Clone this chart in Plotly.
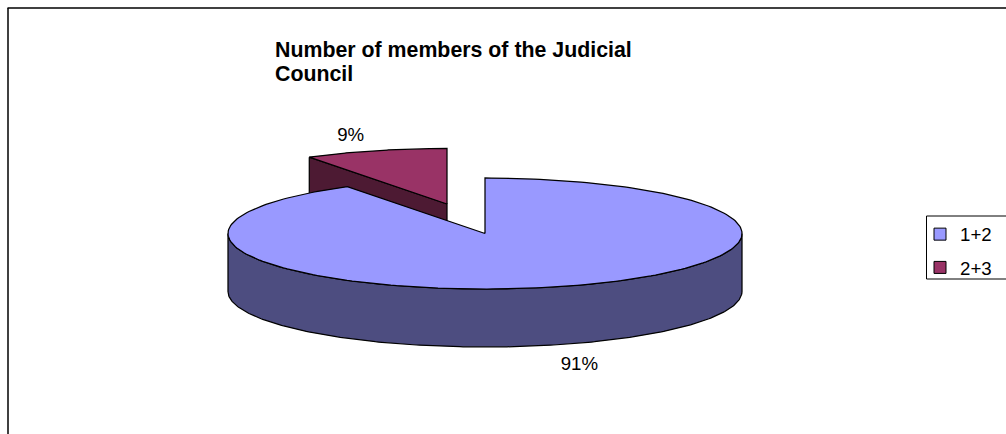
import numpy as np
import plotly.graph_objects as go

# Chart data
categories = ["1+2", "2+3"]
shares = [91, 9]
top_colors = ["#9999FF", "#993366"]
wall_colors = ["#4D4D80", "#4D1A33"]
title_lines = ["Number of members of the Judicial", "Council"]

# Projected pie geometry in pixels (the axes below map 1:1 onto the page)
W, H = 1006, 434
RX, RY, DEPTH = 257, 55.5, 58
CENTER = (485, 233.5)          # apex of the first slice
EXPLODED = (447, 204)          # apex of the pulled-out slice
LABEL_R = 1.33
FONT = "Liberation Sans"


def rim(center, a0, a1, n=240):
    """Points on the top rim; angles in degrees, clockwise from 12 o'clock."""
    t = np.radians(np.linspace(a0, a1, n))
    return center[0] + RX * np.sin(t), center[1] - RY * np.cos(t)


def poly(xs, ys, color, name):
    return go.Scatter(
        x=list(xs), y=list(ys), mode="lines", fill="toself", fillcolor=color,
        line=dict(color="black", width=1.25), showlegend=False, hoverinfo="skip", name=name,
    )


total = sum(shares)
split = 360 * shares[0] / total   # boundary between the two slices

fig = go.Figure()

# Pulled-out slice: side wall, then top face
sx, sy = rim(EXPLODED, split, 360)
fig.add_trace(poly(
    [sx[0], EXPLODED[0], EXPLODED[0], sx[0], sx[0]],
    [sy[0], EXPLODED[1], EXPLODED[1] + DEPTH, sy[0] + DEPTH, sy[0]],
    wall_colors[1], categories[1]))
fig.add_trace(poly(np.r_[EXPLODED[0], sx, EXPLODED[0]], np.r_[EXPLODED[1], sy, EXPLODED[1]],
                   top_colors[1], categories[1]))

# Main slice: front wall covers the lower half of the rim that it owns
wx, wy = rim(CENTER, 90, 270)
fig.add_trace(poly(np.r_[wx, wx[::-1], wx[0]], np.r_[wy, wy[::-1] + DEPTH, wy[0]],
                   wall_colors[0], categories[0]))
bx, by = rim(CENTER, 0, split)
fig.add_trace(poly(np.r_[CENTER[0], bx, CENTER[0]], np.r_[CENTER[1], by, CENTER[1]],
                   top_colors[0], categories[0]))

# Percentage labels sit on each slice's mid-angle, outside the rim
mids = [split / 2, (split + 360) / 2]
for value, mid, c, drop in zip(shares, mids, (CENTER, EXPLODED), (DEPTH, 0)):
    lx = c[0] + LABEL_R * RX * np.sin(np.radians(mid))
    ly = c[1] - LABEL_R * RY * np.cos(np.radians(mid)) + drop
    fig.add_trace(go.Scatter(
        x=[lx - 1], y=[ly + 3], mode="text", text=[f"{value}%"], textposition="middle center",
        textfont=dict(family=FONT, size=18.67, color="black"),
        showlegend=False, hoverinfo="skip",
    ))

# Legend entries; bar traces give a plain filled swatch
for name, color in zip(categories, top_colors):
    fig.add_trace(go.Bar(
        x=[None], y=[None], name=name, legendgroup=name,
        marker=dict(color=color, line=dict(color="black", width=1)),
    ))

axis = dict(visible=False, fixedrange=True)
fig.update_layout(
    width=W, height=H, margin=dict(l=0, r=0, t=0, b=0),
    paper_bgcolor="white", plot_bgcolor="white",
    xaxis=dict(range=[0, W], **axis),
    yaxis=dict(range=[H, 0], **axis),
    title=dict(
        text=title_lines[0], x=275 / W, xref="paper", xanchor="left",
        y=1 - 42 / H, yref="paper", yanchor="top",
        font=dict(family=FONT, size=21.33, color="black", weight=700),
    ),
    # Second title line is placed separately for its tighter leading
    annotations=[dict(
        text=title_lines[1], x=275, y=74, xref="x", yref="y", xanchor="left", yanchor="middle",
        showarrow=False, xshift=-2,
        font=dict(family=FONT, size=21.33, color="black", weight=700),
    )],
    legend=dict(
        x=920 / W, y=1 - 215.5 / H, xanchor="left", yanchor="top",
        font=dict(family=FONT, size=18.67, color="black"),
        bgcolor="rgba(0,0,0,0)", traceorder="grouped", tracegroupgap=6,
    ),
    shapes=[
        # Outer chart frame, running off the page at right and bottom
        dict(type="line", x0=7.5, y0=8, x1=W, y1=8, line=dict(color="black", width=1.5)),
        dict(type="line", x0=8, y0=8, x1=8, y1=H, line=dict(color="black", width=1.5)),
        # Legend box, cut off by the page edge at right
        dict(type="rect", x0=926.5, y0=216, x1=W + 6, y1=279, line=dict(color="black", width=1)),
    ],
)

fig.write_html("out.html", config=dict(displayModeBar=False))
